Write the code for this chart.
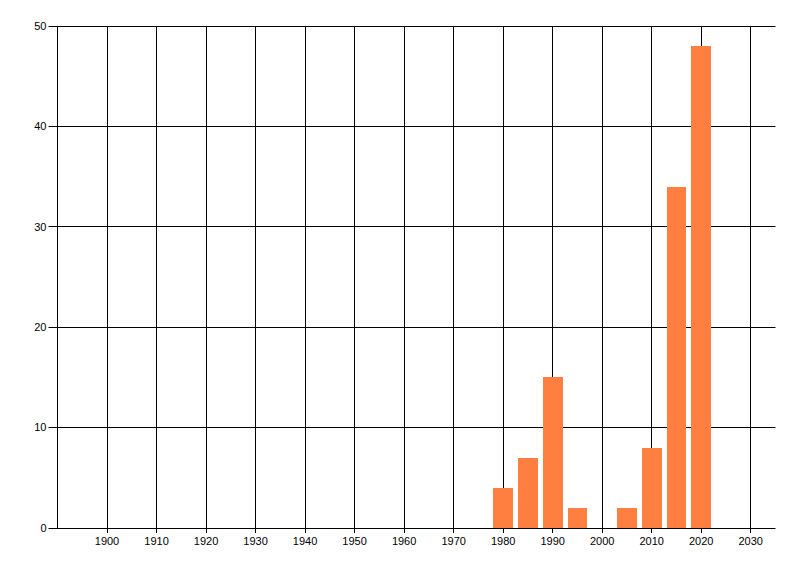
<!DOCTYPE html>
<html>
<head>
<meta charset="utf-8">
<script src="https://cdn.jsdelivr.net/npm/d3@7"></script>
<style>
  body { margin: 0; background: #fff; }
  text { font-family: "Liberation Sans", Arial, sans-serif; font-size: 11px; fill: #000; }
</style>
</head>
<body>
<script>
const years = [1980, 1985, 1990, 1995, 2005, 2010, 2015, 2020];
const counts = [4, 7, 15, 2, 2, 8, 34, 48];
const xTicks = [1900, 1910, 1920, 1930, 1940, 1950, 1960, 1970, 1980, 1990, 2000, 2010, 2020, 2030];
const yTicks = [0, 10, 20, 30, 40, 50];

const width = 800;
const height = 576;
const margin = { top: 26, right: 24.5, bottom: 48, left: 57.5 };

const svg = d3
  .select("body")
  .append("svg")
  .attr("width", width)
  .attr("height", height);

const x = d3
  .scaleLinear()
  .domain([1890, 2035])
  .range([margin.left, width - margin.right]);

const y = d3
  .scaleLinear()
  .domain([0, 50])
  .range([height - margin.bottom, margin.top]);

const px = (v) => Math.floor(v) + 0.5;

// horizontal grid + y ticks
svg
  .append("g")
  .selectAll("line")
  .data(yTicks)
  .enter()
  .append("line")
  .attr("x1", margin.left - 9)
  .attr("x2", width - margin.right)
  .attr("y1", (d) => px(y(d)))
  .attr("y2", (d) => px(y(d)))
  .attr("stroke", "#000");

// vertical grid + x ticks
svg
  .append("g")
  .selectAll("line")
  .data(xTicks)
  .enter()
  .append("line")
  .attr("x1", (d) => px(x(d)))
  .attr("x2", (d) => px(x(d)))
  .attr("y1", margin.top)
  .attr("y2", height - margin.bottom + 5)
  .attr("stroke", "#000");

// left axis line
svg
  .append("line")
  .attr("x1", margin.left)
  .attr("x2", margin.left)
  .attr("y1", margin.top)
  .attr("y2", height - margin.bottom + 1)
  .attr("stroke", "#000");

// bars
const data = years.map((yr, i) => ({ year: yr, count: counts[i] }));
svg
  .append("g")
  .selectAll("rect")
  .data(data)
  .enter()
  .append("rect")
  .attr("x", (d) => Math.round(x(d.year - 2)))
  .attr("width", (d) => Math.round(x(d.year + 2)) - Math.round(x(d.year - 2)))
  .attr("y", (d) => Math.round(y(d.count)))
  .attr("height", (d) => Math.round(y(0)) - Math.round(y(d.count)))
  .attr("fill", "#ff7f40");

// y labels
svg
  .append("g")
  .selectAll("text")
  .data(yTicks)
  .enter()
  .append("text")
  .attr("x", margin.left - 11)
  .attr("y", (d) => y(d))
  .attr("dy", "0.35em")
  .attr("text-anchor", "end")
  .text((d) => d);

// x labels
svg
  .append("g")
  .selectAll("text")
  .data(xTicks)
  .enter()
  .append("text")
  .attr("x", (d) => x(d))
  .attr("y", height - margin.bottom + 17)
  .attr("text-anchor", "middle")
  .text((d) => d);
</script>
</body>
</html>
